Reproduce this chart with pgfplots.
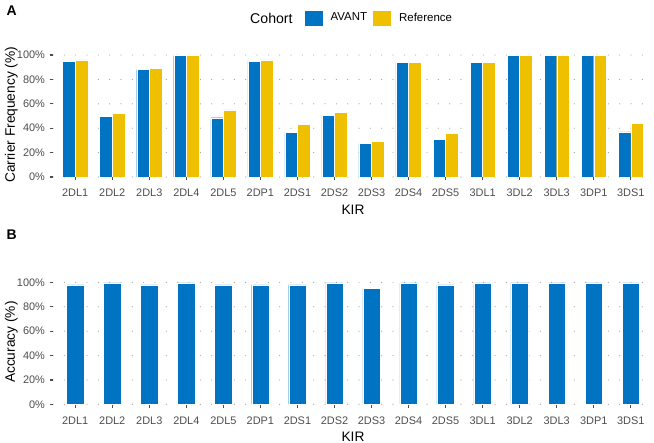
\documentclass[border=0pt]{standalone}
\usepackage{fontspec}
\setmainfont{Liberation Sans}
\usepackage{pgfplots}
\pgfplotsset{compat=1.18}
\definecolor{avant}{HTML}{0073C2}
\definecolor{refc}{HTML}{EFC000}
\definecolor{ticklab}{HTML}{4D4D4D}
\definecolor{gridc}{HTML}{ABA39B}

\pgfplotsset{kirstyle/.style={
  scale only axis, width=450pt, height=93.3pt,
  xmin=0.4, xmax=16.6, ymin=0, ymax=102,
  xtick={1,...,16},
  xticklabels={2DL1,2DL2,2DL3,2DL4,2DL5,2DP1,2DS1,2DS2,2DS3,2DS4,2DS5,3DL1,3DL2,3DL3,3DP1,3DS1},
  ytick={0,20,...,100},
  yticklabels={0\%,20\%,40\%,60\%,80\%,100\%},
  axis line style={draw=none},
  ymajorgrids,
  grid style={gridc, line width=0.9pt, dash pattern=on 0pt off 8.5pt, line cap=round},
  tick align=outside, major tick length=2.5pt,
  tick style={ticklab, line width=0.9pt},
  xtick pos=left, ytick pos=left,
  ticklabel style={font=\fontsize{8.2}{9}\selectfont, text=ticklab},
  xticklabel style={yshift=-3pt},
  label style={font=\fontsize{10.3}{12}\selectfont},
  xlabel={KIR},
  xlabel style={yshift=1pt},
  ylabel style={yshift=-7.5pt},
}}

\begin{document}
\begin{tikzpicture}
\useasboundingbox (0pt,0pt) rectangle (490.5pt,332.25pt);

% Panel A
\begin{axis}[kirstyle, at={(39.75pt,199.5pt)}, anchor=south west,
  ylabel={Carrier Frequency (\%)},
  ybar=0pt, bar width=0.34,
  legend columns=2,
  legend style={at={(axis description cs:0.418,1.278)}, anchor=west, draw=none,
    inner sep=0pt, outer sep=0pt, font=\fontsize{8.6}{10}\selectfont,
    /tikz/every odd column/.append style={column sep=3.5pt},
    /tikz/every even column/.append style={column sep=2pt}},
  legend image code/.code={\fill[#1] (0pt,-6pt) rectangle (14.25pt,6pt);},
]
\addplot[fill=avant, draw=white, line width=0.3pt] coordinates {
  (1,95) (2,50) (3,88) (4,99.5) (5,48.6) (6,95) (7,36.6) (8,50.8)
  (9,27.6) (10,94) (11,30.9) (12,94) (13,100) (14,100) (15,100) (16,37)
};
\addplot[fill=refc, draw=white, line width=0.3pt] coordinates {
  (1,96) (2,52) (3,89) (4,99.5) (5,55) (6,96) (7,43) (8,53)
  (9,29) (10,94) (11,35.8) (12,94) (13,100) (14,100) (15,100) (16,44)
};
\legend{AVANT,Reference}
\end{axis}
\node[anchor=east, font=\fontsize{10.6}{12}\selectfont] at (223pt,318.75pt) {Cohort};
\node[anchor=north west, font=\bfseries\fontsize{10.5}{12}\selectfont] at (1.5pt,331.5pt) {A};

% Panel B
\begin{axis}[kirstyle, at={(39.75pt,29pt)}, anchor=south west,
  ylabel={Accuracy (\%)},
  ybar=0pt, bar width=0.47,
]
\addplot[fill=avant, draw=white, line width=0.3pt] coordinates {
  (1,98) (2,99.5) (3,98) (4,99.5) (5,98) (6,98) (7,98) (8,99.5)
  (9,95) (10,99.5) (11,98) (12,99.5) (13,99.5) (14,99.5) (15,99.5) (16,99.5)
};
\end{axis}
\node[anchor=north west, font=\bfseries\fontsize{10.5}{12}\selectfont] at (1.5pt,163.5pt) {B};
\end{tikzpicture}
\end{document}
